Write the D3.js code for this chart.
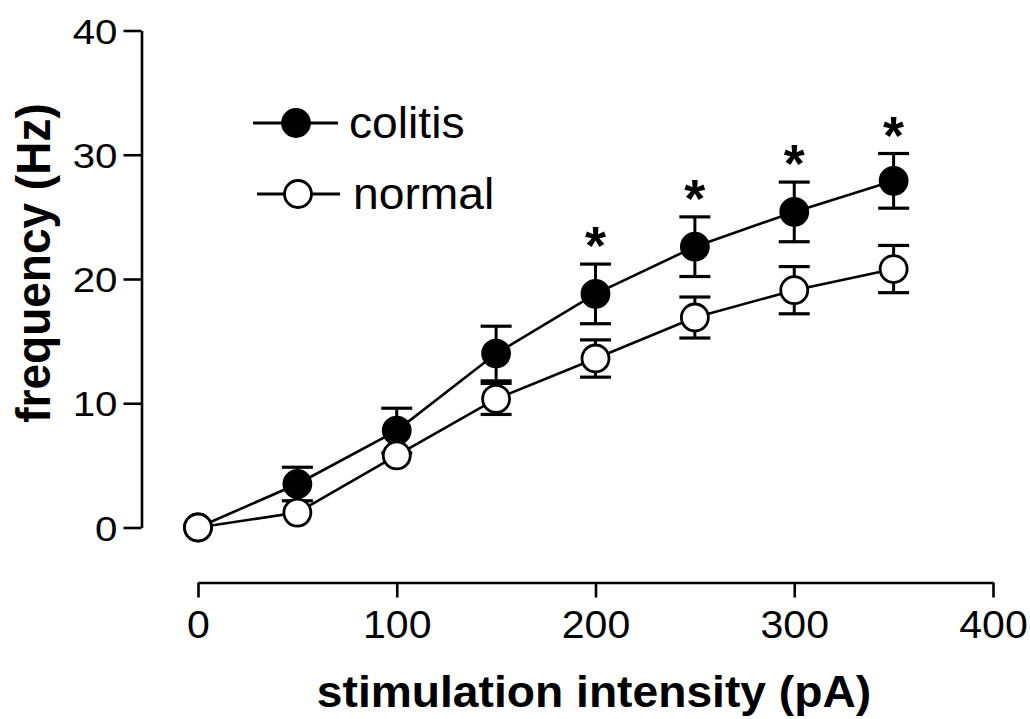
<!DOCTYPE html>
<html>
<head>
<meta charset="utf-8">
<script src="https://cdn.jsdelivr.net/npm/d3@7"></script>
<style>
  html, body { margin: 0; padding: 0; background: #fff; }
  svg { display: block; }
  text { font-family: "Liberation Sans", Arial, Helvetica, sans-serif; fill: #000; }
</style>
</head>
<body>
<svg id="chart" width="1030" height="719"></svg>
<script>
// stimulation intensity vs firing frequency, colitis vs normal
const stimulus = [0, 50, 100, 150, 200, 250, 300, 350];
const colitisMean = [0, 3.5, 7.8, 14.0, 18.8, 22.6, 25.4, 27.9];
const colitisSem = [0, 1.35, 1.8, 2.2, 2.4, 2.4, 2.4, 2.2];
const normalMean = [0, 1.2, 5.8, 10.35, 13.6, 16.9, 19.1, 20.8];
const normalSem = [0, 0, 0, 1.25, 1.5, 1.65, 1.9, 1.9];
const significantAt = [200, 250, 300, 350];
const xTicks = [0, 100, 200, 300, 400];
const yTicks = [0, 10, 20, 30, 40];
const seriesNames = ['colitis', 'normal'];

const svg = d3.select('#chart');
svg.append('rect').attr('width', 1030).attr('height', 719).attr('fill', '#fff');

const x = d3.scaleLinear().domain([0, 400]).range([198, 993]);
const y = d3.scaleLinear().domain([0, 40]).range([527.5, 30.5]);

const axisStroke = 2.6;

// y axis
const yAxis = svg.append('g')
  .attr('transform', 'translate(141.5,0)')
  .call(d3.axisLeft(y).tickValues(yTicks).tickSize(18).tickSizeOuter(0));
yAxis.selectAll('path, line').attr('stroke', '#000').attr('stroke-width', axisStroke);
yAxis.selectAll('text')
  .attr('x', 0).attr('dy', '0.36em')
  .attr('transform', 'translate(-24,0) scale(1.15,1)')
  .style('font-size', '35px')
  .attr('fill', '#000');

// x axis
const xAxis = svg.append('g')
  .attr('transform', 'translate(0,582.5)')
  .call(d3.axisBottom(x).tickValues(xTicks).tickSize(15).tickSizeOuter(0));
xAxis.selectAll('path, line').attr('stroke', '#000').attr('stroke-width', axisStroke);
xAxis.selectAll('text')
  .attr('y', 0).attr('dy', 0)
  .attr('transform', 'translate(0,55) scale(1.08,1)')
  .style('font-size', '38px')
  .attr('fill', '#000');
svg.selectAll('.domain').attr('fill', 'none');

// axis titles
svg.append('text')
  .attr('transform', 'translate(594,707) scale(1.05,1)')
  .attr('text-anchor', 'middle')
  .style('font-size', '44px').style('font-weight', 'bold')
  .text('stimulation intensity (pA)');

svg.append('text')
  .attr('transform', 'translate(50,263) scale(1.06,1) rotate(-90)')
  .attr('text-anchor', 'middle')
  .style('font-size', '46px').style('font-weight', 'bold')
  .text('frequency (Hz)');

const series = [
  { name: seriesNames[0], mean: colitisMean, sem: colitisSem, fill: '#000' },
  { name: seriesNames[1], mean: normalMean, sem: normalSem, fill: '#fff' }
];

const line = d3.line().x(d => x(d.s)).y(d => y(d.m));
const markerR = 13.5;
const capHalf = 15.5;

series.forEach(sr => {
  const pts = stimulus.map((s, i) => ({ s, m: sr.mean[i], e: sr.sem[i] }));
  const g = svg.append('g');
  g.append('path')
    .attr('d', line(pts))
    .attr('fill', 'none')
    .attr('stroke', '#000')
    .attr('stroke-width', 2.6);

  const bars = g.selectAll('.err').data(pts.filter(d => d.e > 0)).join('g').attr('class', 'err');
  bars.append('line')
    .attr('x1', d => x(d.s)).attr('x2', d => x(d.s))
    .attr('y1', d => y(d.m - d.e)).attr('y2', d => y(d.m + d.e))
    .attr('stroke', '#000').attr('stroke-width', 3);
  [1, -1].forEach(sign => {
    bars.append('line')
      .attr('x1', d => x(d.s) - capHalf).attr('x2', d => x(d.s) + capHalf)
      .attr('y1', d => y(d.m + sign * d.e)).attr('y2', d => y(d.m + sign * d.e))
      .attr('stroke', '#000').attr('stroke-width', 3.2);
  });

  g.selectAll('circle').data(pts).join('circle')
    .attr('cx', d => x(d.s)).attr('cy', d => y(d.m))
    .attr('r', markerR)
    .attr('fill', sr.fill)
    .attr('stroke', '#000')
    .attr('stroke-width', 2.8);
});

// significance stars above colitis error bars
svg.selectAll('.star')
  .data(significantAt.map(s => {
    const i = stimulus.indexOf(s);
    return { s, top: colitisMean[i] + colitisSem[i] };
  }))
  .join('text')
  .attr('class', 'star')
  .attr('x', d => x(d.s))
  .attr('y', d => y(d.top))
  .attr('text-anchor', 'middle')
  .style('font-size', '54px').style('font-weight', 'bold')
  .text('*');

// legend
const legendRows = [
  { label: seriesNames[0], fill: '#000', y: 123, x0: 253, x1: 338, cx: 296, tx: 349 },
  { label: seriesNames[1], fill: '#fff', y: 194, x0: 257, x1: 340, cx: 298, tx: 353 }
];
const lg = svg.append('g');
legendRows.forEach(r => {
  lg.append('line')
    .attr('x1', r.x0).attr('x2', r.x1).attr('y1', r.y).attr('y2', r.y)
    .attr('stroke', '#000').attr('stroke-width', 3);
  lg.append('circle')
    .attr('cx', r.cx).attr('cy', r.y).attr('r', markerR)
    .attr('fill', r.fill).attr('stroke', '#000').attr('stroke-width', 2.8);
  lg.append('text')
    .attr('transform', `translate(${r.tx},${r.y + 15}) scale(1.05,1)`)
    .style('font-size', '44px')
    .text(r.label);
});
</script>
</body>
</html>
